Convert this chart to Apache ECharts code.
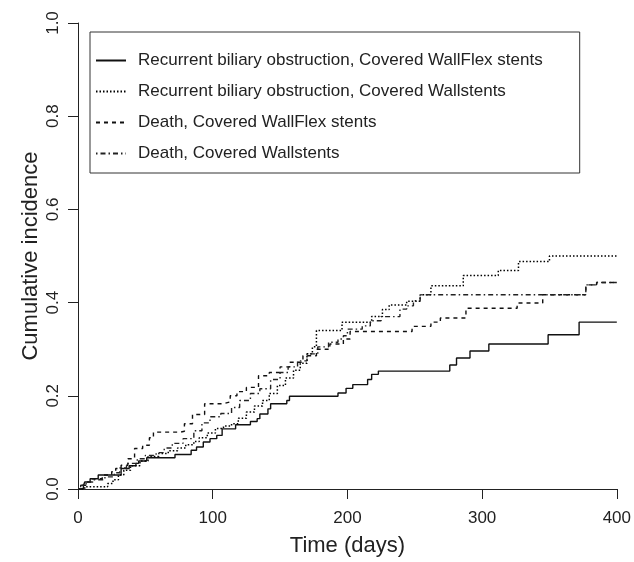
<!DOCTYPE html>
<html>
<head>
<meta charset="utf-8">
<script src="https://cdn.jsdelivr.net/npm/echarts@6/dist/echarts.min.js"></script>
<style>
html,body{margin:0;padding:0;background:#fff;}
#chart{width:634px;height:562px;}
</style>
</head>
<body>
<div id="chart"></div>
<script>
// Series names
const seriesNames = [
  'Recurrent biliary obstruction, Covered WallFlex stents',
  'Recurrent biliary obstruction, Covered Wallstents',
  'Death, Covered WallFlex stents',
  'Death, Covered Wallstents'
];
// Recurrent biliary obstruction, Covered WallFlex stents (solid)
const recurWFDays = [0,4,5,9,15,32,38,43,45,51,72,84,88,93,98,103,107,117,128,133,135,141,143,155,157,193,199,204,215,218,223,276,281,291,305,349,372,400];
const recurWFVals = [0,0.007,0.015,0.022,0.03,0.044,0.05,0.055,0.06,0.067,0.074,0.083,0.09,0.101,0.108,0.115,0.129,0.138,0.145,0.151,0.161,0.172,0.183,0.19,0.199,0.206,0.216,0.224,0.235,0.246,0.253,0.266,0.281,0.296,0.311,0.331,0.358,0.358];
// Recurrent biliary obstruction, Covered Wallstents (dotted)
const recurWSDays = [0,5,22,26,30,34,39,46,52,60,67,74,80,86,90,96,102,108,114,119,125,131,137,142,148,154,160,165,170,174,177,196,218,226,231,244,254,262,286,312,327,350,400];
const recurWSVals = [0,0.005,0.012,0.02,0.03,0.04,0.05,0.06,0.07,0.076,0.082,0.088,0.095,0.102,0.11,0.12,0.13,0.135,0.14,0.152,0.165,0.178,0.19,0.205,0.222,0.238,0.255,0.27,0.29,0.305,0.34,0.358,0.37,0.385,0.395,0.403,0.417,0.436,0.458,0.469,0.488,0.5,0.5];
// Death, Covered WallFlex stents (dashed)
const deathWFDays = [0,3,7,10,18,25,28,32,37,42,48,53,56,76,79,85,94,108,113,118,125,134,142,150,157,167,177,187,197,202,235,248,262,269,288,326,345,377,385,400];
const deathWFVals = [0,0.008,0.015,0.022,0.03,0.037,0.044,0.051,0.065,0.087,0.094,0.11,0.122,0.124,0.14,0.16,0.183,0.187,0.2,0.209,0.218,0.243,0.25,0.262,0.272,0.286,0.3,0.311,0.322,0.338,0.338,0.349,0.358,0.367,0.388,0.399,0.417,0.438,0.443,0.443];
// Death, Covered Wallstents (dash-dot)
const deathWSDays = [0,2,6,11,20,27,31,36,44,50,58,64,70,78,86,92,98,106,114,120,128,135,143,150,156,163,170,178,186,193,197,200,211,217,225,239,244,249,254,377,385,400];
const deathWSVals = [0,0.008,0.015,0.02,0.026,0.035,0.045,0.055,0.065,0.072,0.078,0.088,0.098,0.108,0.125,0.142,0.155,0.162,0.175,0.19,0.205,0.215,0.235,0.25,0.262,0.275,0.29,0.305,0.315,0.322,0.329,0.343,0.35,0.361,0.37,0.386,0.393,0.404,0.417,0.438,0.443,0.443];
// Tick labels
const xTicks = [0,100,200,300,400];
const yTicks = ['0.0','0.2','0.4','0.6','0.8','1.0'];

function pairs(d, v){ return d.map((x,i)=>[x, v[i]]); }

const FONT = 'Liberation Sans, Arial, Helvetica, sans-serif';
const chart = echarts.init(document.getElementById('chart'), null, {renderer:'canvas'});
const styles = [
  {type:'solid', color:'#111', width:1.4},
  {type:[1.5,2], color:'#000', width:1.5},
  {type:[4,4], color:'#111', width:1.4},
  {type:[1.5,3,5,3], color:'#222', width:1.4}
];
const dataSets = [
  pairs(recurWFDays, recurWFVals),
  pairs(recurWSDays, recurWSVals),
  pairs(deathWFDays, deathWFVals),
  pairs(deathWSDays, deathWSVals)
];
chart.setOption({
  animation:false,
  backgroundColor:'#fff',
  grid:{left:78, right:17, top:23, bottom:72, containLabel:false},
  legend:{
    orient:'vertical', left:90, top:32,
    itemWidth:30, itemHeight:14, itemGap:14,
    padding:[20,37,11,5],
    borderColor:'#333', borderWidth:1,
    itemStyle:{opacity:0},
    textStyle:{fontSize:17, color:'#222', fontFamily:FONT, padding:[0,0,0,7]},
    data: seriesNames
  },
  xAxis:{
    type:'value', min:0, max:400, interval:100,
    name:'Time (days)', nameLocation:'middle', nameGap:46,
    nameMoveOverlap:false,
    nameTextStyle:{fontSize:22, color:'#222', fontFamily:FONT},
    axisLine:{show:true, lineStyle:{color:'#222', width:1}},
    axisTick:{show:true, length:10, lineStyle:{color:'#222'}},
    axisLabel:{fontSize:17, color:'#222', fontFamily:FONT, margin:21,
      formatter:v=> xTicks.indexOf(v)>=0 ? String(v) : ''},
    splitLine:{show:false}
  },
  yAxis:{
    type:'value', min:0, max:1, interval:0.2,
    name:'Cumulative incidence', nameLocation:'middle', nameGap:36,
    nameMoveOverlap:false,
    nameTextStyle:{fontSize:22, color:'#222', fontFamily:FONT},
    axisLine:{show:true, lineStyle:{color:'#222', width:1}},
    axisTick:{show:true, length:10, lineStyle:{color:'#222'}},
    axisLabel:{fontSize:17, color:'#222', fontFamily:FONT, margin:16, rotate:90,
      formatter:v=> yTicks[Math.round(v/0.2)]},
    splitLine:{show:false}
  },
  series: seriesNames.map((n,i)=>({
    name:n, type:'line', step:'end', symbol:'none', showSymbol:false,
    data:dataSets[i],
    lineStyle:{width:styles[i].width, type:styles[i].type, color:styles[i].color},
    itemStyle:{color:styles[i].color}
  }))
});
</script>
</body>
</html>
